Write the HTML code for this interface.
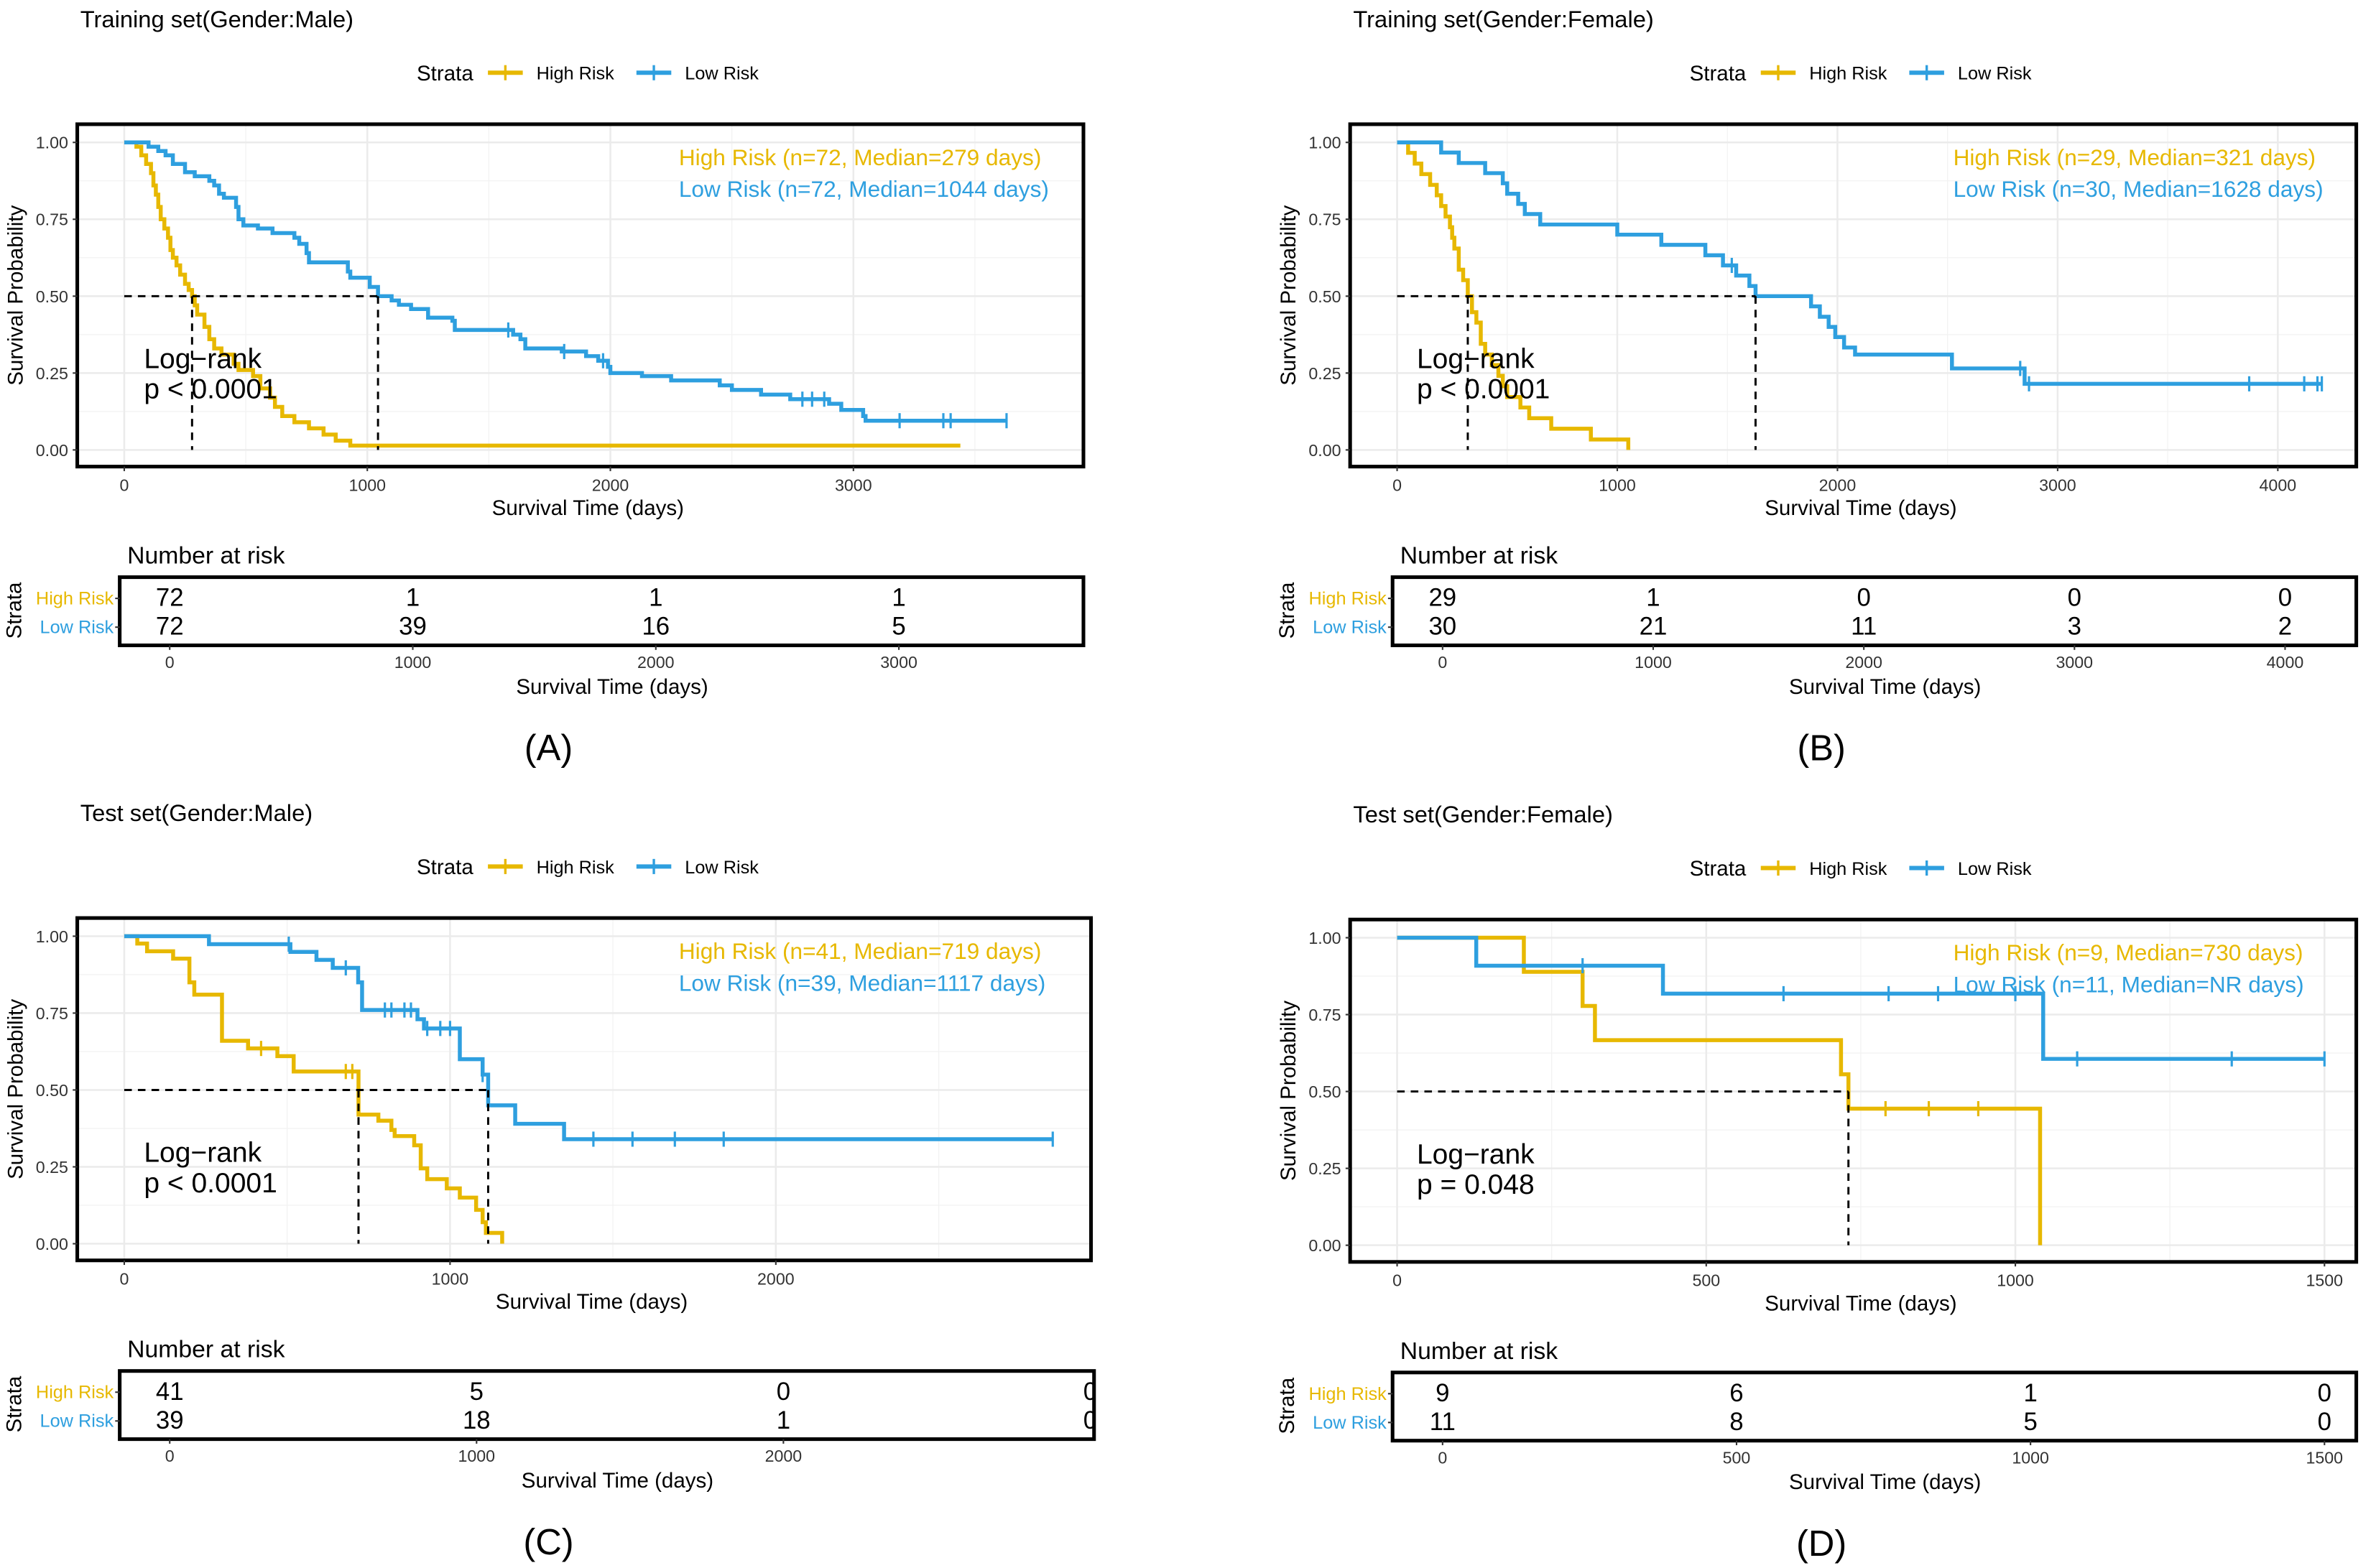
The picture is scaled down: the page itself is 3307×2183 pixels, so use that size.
<!DOCTYPE html>
<html><head><meta charset="utf-8"><style>
html,body{margin:0;padding:0;background:#fff;}
svg{display:block;font-family:"Liberation Sans",Arial,sans-serif;}
</style></head><body>
<svg id="fig" width="3307" height="2183" viewBox="0 0 1568 1035.06" xmlns="http://www.w3.org/2000/svg"></svg>
<script>
// ---- data ----
const A_highT=[0,50,70,90,110,120,130,140,150,165,180,190,200,215,230,250,265,279,290,300,330,350,370,400,450,470,530,560,600,620,650,700,760,820,870,930];
const A_highS=[1,0.986,0.958,0.93,0.9,0.86,0.83,0.79,0.75,0.72,0.69,0.65,0.625,0.6,0.57,0.54,0.52,0.5,0.47,0.44,0.4,0.36,0.33,0.31,0.28,0.26,0.24,0.2,0.17,0.14,0.11,0.09,0.07,0.05,0.03,0.014];
const A_highEnd=3440;
const A_highCens=[];
const A_lowT=[0,100,140,170,200,250,290,350,370,390,410,460,470,490,550,610,700,720,750,760,920,930,1010,1044,1100,1130,1180,1250,1350,1360,1600,1630,1650,1800,1900,1950,1990,2000,2130,2250,2450,2500,2620,2740,2900,2950,3040,3050];
const A_lowS=[1,0.986,0.972,0.958,0.93,0.903,0.89,0.875,0.86,0.833,0.82,0.79,0.75,0.73,0.72,0.705,0.69,0.67,0.64,0.61,0.58,0.56,0.53,0.5,0.486,0.472,0.458,0.43,0.42,0.39,0.375,0.36,0.33,0.32,0.305,0.29,0.27,0.25,0.24,0.226,0.21,0.195,0.18,0.165,0.15,0.13,0.11,0.095];
const A_lowEnd=3630;
const A_lowCens=[1580,1810,1970,2790,2830,2880,3190,3370,3400,3630];

const B_highT=[0,50,80,110,150,180,200,220,240,250,260,280,300,321,340,360,380,400,430,460,480,500,560,600,700,880,1050];
const B_highS=[1,0.966,0.931,0.897,0.862,0.828,0.793,0.759,0.724,0.69,0.655,0.586,0.552,0.5,0.448,0.414,0.345,0.31,0.276,0.241,0.207,0.172,0.138,0.103,0.069,0.034,0];
const B_highEnd=1050;
const B_highCens=[];
const B_lowT=[0,200,280,400,480,500,550,580,650,1000,1200,1400,1480,1540,1600,1628,1880,1920,1960,1990,2030,2080,2520,2850];
const B_lowS=[1,0.967,0.933,0.9,0.867,0.833,0.8,0.767,0.733,0.7,0.667,0.633,0.6,0.567,0.533,0.5,0.467,0.433,0.4,0.367,0.333,0.31,0.265,0.215];
const B_lowEnd=4200;
const B_lowCens=[1520,2830,2870,3870,4120,4180,4200];

const C_highT=[0,40,70,150,200,215,300,380,470,520,719,780,820,830,890,910,930,990,1030,1080,1100,1110,1160];
const C_highS=[1,0.976,0.951,0.927,0.85,0.81,0.66,0.635,0.61,0.56,0.42,0.40,0.37,0.35,0.32,0.245,0.21,0.18,0.15,0.11,0.07,0.035,0];
const C_highEnd=1160;
const C_highCens=[420,680,700];
const C_lowT=[0,260,510,590,640,718,730,900,920,1030,1100,1117,1200,1350];
const C_lowS=[1,0.974,0.949,0.923,0.897,0.85,0.76,0.73,0.70,0.60,0.55,0.45,0.39,0.34];
const C_lowEnd=2850;
const C_lowCens=[505,680,800,820,860,880,930,970,1000,1100,1440,1560,1690,1840,2850];

const D_highT=[0,205,300,320,718,730,1040];
const D_highS=[1,0.889,0.778,0.667,0.556,0.444,0];
const D_highEnd=1040;
const D_highCens=[790,860,940];
const D_lowT=[0,128,430,1045];
const D_lowS=[1,0.909,0.818,0.606];
const D_lowEnd=1500;
const D_lowCens=[300,625,795,875,1000,1100,1350,1500];

const A_riskHigh=[72,1,1,1], A_riskLow=[72,39,16,5];
const B_riskHigh=[29,1,0,0,0], B_riskLow=[30,21,11,3,2];
const C_riskHigh=[41,5,0,0], C_riskLow=[39,18,1,0];
const D_riskHigh=[9,6,1,0], D_riskLow=[11,8,5,0];
const A_ticks=[0,1000,2000,3000], B_ticks=[0,1000,2000,3000,4000], C_ticks=[0,1000,2000], D_ticks=[0,500,1000,1500];
const yTicks=[0,0.25,0.5,0.75,1];
const yTickLabels=["0.00","0.25","0.50","0.75","1.00"];

const YEL="#E7B800", BLU="#2E9FDF";
const NS="http://www.w3.org/2000/svg";
const svg=document.getElementById('fig');
function mk(tag,attrs,parent,text){const e=document.createElementNS(NS,tag);for(const k in attrs)e.setAttribute(k,attrs[k]);if(text!==undefined)e.textContent=text;(parent||svg).appendChild(e);return e;}

const panels=[
 {id:'a',title:'Training set(Gender:Male)',ox:0,oy:0,x0:82,k:0.1604,box:[51,715],tbx0:112,tk:0.1604,tbox:[79,715],ticks:A_ticks,tableTicks:[0,1000,2000,3000],
  hT:A_highT,hS:A_highS,hE:A_highEnd,hC:A_highCens,lT:A_lowT,lS:A_lowS,lE:A_lowEnd,lC:A_lowCens,rh:A_riskHigh,rl:A_riskLow,
  hTxt:'High Risk (n=72, Median=279 days)',lTxt:'Low Risk (n=72, Median=1044 days)',med:[279,1044],p:'p < 0.0001',lab:'(A)',annX:448,lgX:275,minor:[500,1500,2500,3500]},
 {id:'b',title:'Training set(Gender:Female)',ox:840,oy:0,x0:922,k:0.1453,box:[891,1555],tbx0:952,tk:0.139,tbox:[919,1555],ticks:B_ticks,tableTicks:B_ticks,
  hT:B_highT,hS:B_highS,hE:B_highEnd,hC:B_highCens,lT:B_lowT,lS:B_lowS,lE:B_lowEnd,lC:B_lowCens,rh:B_riskHigh,rl:B_riskLow,
  hTxt:'High Risk (n=29, Median=321 days)',lTxt:'Low Risk (n=30, Median=1628 days)',med:[321,1628],p:'p < 0.0001',lab:'(B)',annX:1289,lgX:1115,minor:[500,1500,2500,3500]},
 {id:'c',title:'Test set(Gender:Male)',ox:0,oy:524,x0:82,k:0.215,box:[51,720],tbx0:112,tk:0.2025,tbox:[79,722],ticks:C_ticks,tableTicks:[0,1000,2000,3000],
  hT:C_highT,hS:C_highS,hE:C_highEnd,hC:C_highCens,lT:C_lowT,lS:C_lowS,lE:C_lowEnd,lC:C_lowCens,rh:C_riskHigh,rl:C_riskLow,
  hTxt:'High Risk (n=41, Median=719 days)',lTxt:'Low Risk (n=39, Median=1117 days)',med:[719,1117],p:'p < 0.0001',lab:'(C)',annX:448,lgX:275,minor:[500,1500,2500]},
 {id:'d',title:'Test set(Gender:Female)',ox:840,oy:525,x0:922,k:0.408,box:[891,1555],tbx0:952,tk:0.388,tbox:[919,1555],ticks:D_ticks,tableTicks:D_ticks,
  hT:D_highT,hS:D_highS,hE:D_highEnd,hC:D_highCens,lT:D_lowT,lS:D_lowS,lE:D_lowEnd,lC:D_lowCens,rh:D_riskHigh,rl:D_riskLow,
  hTxt:'High Risk (n=9, Median=730 days)',lTxt:'Low Risk (n=11, Median=NR days)',med:[730],p:'p = 0.048',lab:'(D)',annX:1289,lgX:1115,minor:[250,750,1250]}
];

panels.forEach(P=>{
  const oy=P.oy, ox=P.ox;
  const g=mk('g',{});
  
  
  const X=t=>P.x0+t*P.k;
  const Y=s=>oy+297-s*203;
  const t1=mk('text',{x:ox+53,y:oy+18,'font-size':15.5,fill:'#000'},g,P.title);
  
  
  // legend
  const lg=mk('g',{},g);
  
  
  const ly=oy+48;
  mk('text',{x:P.lgX,y:ly+5,'font-size':14},lg,'Strata');
  [[YEL,'High Risk',P.lgX+47],[BLU,'Low Risk',P.lgX+145]].forEach(([c,n,x])=>{
    const e=mk('g',{},lg);
    
    
    mk('line',{x1:x,x2:x+23,y1:ly,y2:ly,stroke:c,'stroke-width':2.8},e);
    mk('line',{x1:x+11.5,x2:x+11.5,y1:ly-5,y2:ly+5,stroke:c,'stroke-width':1.6},e);
    mk('text',{x:x+32,y:ly+4.5,'font-size':12},e,n);
  });
  // grid
  const gr=mk('g',{},g);
  
  
  const top=oy+82,bot=oy+308;
  [0.125,0.375,0.625,0.875].forEach(s=>mk('line',{x1:P.box[0],x2:P.box[1],y1:Y(s),y2:Y(s),stroke:'#f2f2f2','stroke-width':0.6},gr));
  P.minor.forEach(t=>{if(X(t)<P.box[1])mk('line',{x1:X(t),x2:X(t),y1:top,y2:bot,stroke:'#f2f2f2','stroke-width':0.6},gr);});
  yTicks.forEach(s=>mk('line',{x1:P.box[0],x2:P.box[1],y1:Y(s),y2:Y(s),stroke:'#ebebeb','stroke-width':1.2},gr));
  P.ticks.forEach(t=>mk('line',{x1:X(t),x2:X(t),y1:top,y2:bot,stroke:'#ebebeb','stroke-width':1.2},gr));
  // curves
  function curve(T,S,E,C,col,name){
    let d='M'+X(T[0])+','+Y(S[0]);
    for(let i=1;i<T.length;i++){d+=' H'+X(T[i])+' V'+Y(S[i]);}
    d+=' H'+X(E);
    const p=mk('path',{d:d,fill:'none',stroke:col,'stroke-width':2.6},g);
    
    
    C.forEach(t=>{
      let s=S[0];for(let i=0;i<T.length;i++)if(T[i]<=t)s=S[i];
      const m=mk('line',{x1:X(t),x2:X(t),y1:Y(s)-5,y2:Y(s)+5,stroke:col,'stroke-width':1.5},g);
      
      
    });
  }
  curve(P.hT,P.hS,P.hE,P.hC,YEL,'high-risk');
  curve(P.lT,P.lS,P.lE,P.lC,BLU,'low-risk');
  // medians
  const mx=Math.max(...P.med);
  const mh=mk('line',{x1:X(0),x2:X(mx),y1:Y(0.5),y2:Y(0.5),stroke:'#000','stroke-width':1.4,'stroke-dasharray':'5,4'},g);
  
  
  P.med.forEach(m=>{
    const v=mk('line',{x1:X(m),x2:X(m),y1:Y(0.5),y2:Y(0),stroke:'#000','stroke-width':1.4,'stroke-dasharray':'5,4'},g);
    
    
  });
  // box
  const bx=mk('rect',{x:P.box[0],y:top,width:P.box[1]-P.box[0],height:bot-top,fill:'none',stroke:'#000','stroke-width':2.4},g);
  
  
  // y axis
  yTicks.forEach((s,i)=>{
    mk('line',{x1:P.box[0]-3,x2:P.box[0],y1:Y(s),y2:Y(s),stroke:'#333'},g);
    mk('text',{x:ox+45,y:Y(s)+4,'font-size':11,'text-anchor':'end',fill:'#333'},g,yTickLabels[i]);
  });
  const yt=mk('text',{x:0,y:0,'font-size':14,'text-anchor':'middle',transform:`translate(${ox+15},${oy+195}) rotate(-90)`},g,'Survival Probability');
  
  
  P.ticks.forEach(t=>{
    mk('line',{x1:X(t),x2:X(t),y1:bot,y2:bot+3,stroke:'#333'},g);
    mk('text',{x:X(t),y:oy+324,'font-size':11,'text-anchor':'middle',fill:'#333'},g,String(t));
  });
  const xt=mk('text',{x:(P.box[0]+P.box[1])/2+5,y:oy+340,'font-size':14,'text-anchor':'middle'},g,'Survival Time (days)');
  
  
  // annotations
  const a1=mk('text',{x:P.annX,y:oy+109,'font-size':15,fill:YEL},g,P.hTxt);
  
  
  const a2=mk('text',{x:P.annX,y:oy+130,'font-size':15,fill:BLU},g,P.lTxt);
  
  
  const lr=mk('text',{x:ox+95,y:oy+243,'font-size':18.5},g,'Log\u2212rank');
  
  
  const pv=mk('text',{x:ox+95,y:oy+263,'font-size':18.5},g,P.p);
  
  
  // risk table
  const tg=mk('g',{},g);
  
  
  mk('text',{x:ox+84,y:oy+372,'font-size':16},tg,'Number at risk');
  const tt=oy+381,tb=oy+426;
  const clipId='clip'+P.id;
  const cp=mk('clipPath',{id:clipId},tg);
  mk('rect',{x:P.tbox[0],y:tt,width:P.tbox[1]-P.tbox[0],height:tb-tt},cp);
  const TX=t=>P.tbx0+t*P.tk;
  const cells=mk('g',{'clip-path':`url(#${clipId})`},tg);
  P.rh.forEach((v,i)=>{const c=mk('text',{x:TX(P.tableTicks[i]),y:oy+400,'font-size':16.5,'text-anchor':'middle'},cells,String(v));});
  P.rl.forEach((v,i)=>{const c=mk('text',{x:TX(P.tableTicks[i]),y:oy+419,'font-size':16.5,'text-anchor':'middle'},cells,String(v));});
  mk('rect',{x:P.tbox[0],y:tt,width:P.tbox[1]-P.tbox[0],height:tb-tt,fill:'none',stroke:'#000','stroke-width':2.4},tg);
  mk('text',{x:ox+75,y:oy+399,'font-size':12,'text-anchor':'end',fill:YEL},tg,'High Risk');
  mk('text',{x:ox+75,y:oy+418,'font-size':12,'text-anchor':'end',fill:BLU},tg,'Low Risk');
  mk('line',{x1:P.tbox[0]-3,x2:P.tbox[0],y1:oy+395,y2:oy+395,stroke:'#333'},tg);
  mk('line',{x1:P.tbox[0]-3,x2:P.tbox[0],y1:oy+414,y2:oy+414,stroke:'#333'},tg);
  mk('text',{x:0,y:0,'font-size':14,'text-anchor':'middle',transform:`translate(${ox+14},${oy+403}) rotate(-90)`},tg,'Strata');
  P.tableTicks.forEach(t=>{
    if(TX(t)>P.tbox[1]-10)return;
    mk('line',{x1:TX(t),x2:TX(t),y1:tb,y2:tb+3,stroke:'#333'},tg);
    mk('text',{x:TX(t),y:oy+441,'font-size':11,'text-anchor':'middle',fill:'#333'},tg,String(t));
  });
  mk('text',{x:(P.tbox[0]+P.tbox[1])/2+7,y:oy+458,'font-size':14,'text-anchor':'middle'},tg,'Survival Time (days)');
  const pl=mk('text',{x:ox+362,y:oy+502,'font-size':24,'text-anchor':'middle'},g,P.lab);
  
  
});
</script>
</body></html>
